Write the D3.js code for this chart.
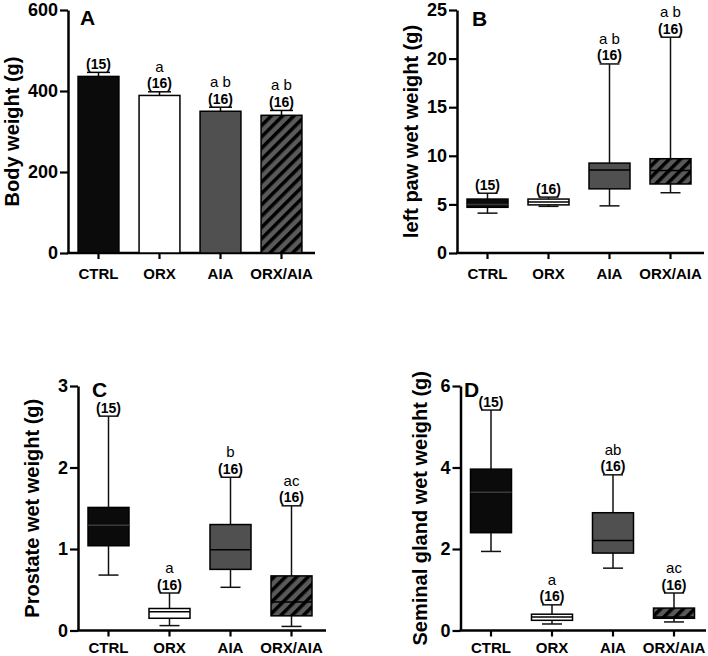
<!DOCTYPE html>
<html>
<head>
<meta charset="utf-8">
<script src="https://cdn.jsdelivr.net/npm/d3@7"></script>
<style>
  body { margin: 0; background: #fff; }
  svg { display: block; font-family: "Liberation Sans", Arial, sans-serif; }
</style>
</head>
<body>
<script>
// groups shown on every x axis, with the n of each group
const groups = ["CTRL", "ORX", "AIA", "ORX/AIA"];
const groupN = ["(15)", "(16)", "(16)", "(16)"];
const groupFill = ["#0b0b0b", "#ffffff", "#505050", "url(#hatch)"];

// A - body weight, mean and SEM
const bodyMean = [436, 389, 350, 340];
const bodySem = [10, 9, 10, 12];
const bodyLetters = ["", "a", "a b", "a b"];
const bodyTicks = [0, 200, 400, 600];

// B - left paw wet weight, box plot
const pawMin = [4.1, 4.8, 4.85, 6.2];
const pawQ1 = [4.7, 4.95, 6.6, 7.1];
const pawMed = [5.0, 5.25, 8.55, 8.5];
const pawQ3 = [5.55, 5.55, 9.25, 9.7];
const pawMax = [6.15, 5.75, 19.45, 22.2];
const pawLetters = ["", "", "a b", "a b"];
const pawTicks = [0, 5, 10, 15, 20, 25];

// C - prostate wet weight
const proMin = [0.68, 0.06, 0.53, 0.05];
const proQ1 = [1.04, 0.15, 0.75, 0.18];
const proMed = [1.29, 0.23, 0.99, 0.35];
const proQ3 = [1.51, 0.27, 1.30, 0.67];
const proMax = [2.63, 0.46, 1.88, 1.53];
const proLetters = ["", "a", "b", "ac"];
const proTicks = [0, 1, 2, 3];

// D - seminal gland wet weight
const semMin = [1.94, 0.16, 1.53, 0.21];
const semQ1 = [2.40, 0.25, 1.90, 0.30];
const semMed = [3.39, 0.33, 2.21, 0.33];
const semQ3 = [3.96, 0.40, 2.89, 0.55];
const semMax = [5.41, 0.63, 3.82, 0.92];
const semLetters = ["", "a", "ab", "ac"];
const semTicks = [0, 2, 4, 6];

const svg = d3.select("body")
  .append("svg")
  .attr("width", 708)
  .attr("height", 656);

// diagonal hatch for the ORX/AIA group
const pat = svg.append("defs").append("pattern")
  .attr("id", "hatch")
  .attr("patternUnits", "userSpaceOnUse")
  .attr("width", 8)
  .attr("height", 8)
  .attr("patternTransform", "rotate(45)");
pat.append("rect").attr("width", 8).attr("height", 8).attr("fill", "#5a5a5a");
pat.append("rect").attr("width", 3.5).attr("height", 8).attr("fill", "#000");

// draws axes, titles and labels of one panel, returns its scales
function makePanel(p) {
  const y = d3.scaleLinear().domain([0, p.yMax]).range([p.bottom, p.top]);
  const x = d3.scaleBand()
    .domain(groups)
    .range([p.left, p.left + 244])
    .paddingInner(0.33)
    .paddingOuter(0.165);

  const yAxis = svg.append("g")
    .attr("transform", `translate(${p.left},0)`)
    .call(d3.axisLeft(y).tickValues(p.ticks).tickFormat(d3.format("d"))
      .tickSize(8).tickPadding(2).tickSizeOuter(0));
  yAxis.select(".domain").attr("stroke-width", 2.5);
  yAxis.selectAll(".tick line").attr("stroke-width", 2.2);
  yAxis.selectAll("text")
    .attr("font-size", 18)
    .attr("font-weight", "bold")
    .attr("fill", "#000");

  const xAxis = svg.append("g")
    .attr("transform", `translate(0,${p.bottom})`)
    .call(d3.axisBottom(x).tickSize(6).tickPadding(p.pad));
  xAxis.select(".domain").remove();
  xAxis.selectAll(".tick line").attr("stroke-width", 2.2);
  xAxis.selectAll("text")
    .attr("font-size", 15)
    .attr("font-weight", "bold")
    .attr("fill", "#000");

  svg.append("line")
    .attr("x1", p.left - 1)
    .attr("x2", p.right)
    .attr("y1", p.bottom)
    .attr("y2", p.bottom)
    .attr("stroke", "#000")
    .attr("stroke-width", 2.5);

  svg.append("text")
    .text(p.title)
    .attr("x", p.titleX)
    .attr("y", p.titleY)
    .attr("font-size", 21)
    .attr("font-weight", "bold");

  svg.append("text")
    .text(p.label)
    .attr("transform", `translate(${p.labelX},${(p.top + p.bottom) / 2}) rotate(-90)`)
    .attr("text-anchor", "middle")
    .attr("dy", "0.35em")
    .attr("font-size", 20)
    .attr("font-weight", "bold");

  return {x, y};
}

// n and significance letters above each group
function annotate(x, capY, letters) {
  groups.forEach((g, i) => {
    const cx = x(g) + x.bandwidth() / 2;
    svg.append("text")
      .text(groupN[i])
      .attr("x", cx)
      .attr("y", capY[i] - 3.5)
      .attr("text-anchor", "middle")
      .attr("font-size", 14)
      .attr("font-weight", "bold");
    if (letters[i]) {
      svg.append("text")
        .text(letters[i])
        .attr("x", cx)
        .attr("y", capY[i] - 20)
        .attr("text-anchor", "middle")
        .attr("font-size", 15);
    }
  });
}

function boxPlot(s, mins, q1s, meds, q3s, maxs, letters) {
  const {x, y} = s;
  const boxW = 41, capW = 20;
  groups.forEach((g, i) => {
    const cx = x(g) + x.bandwidth() / 2;
    svg.append("line")
      .attr("x1", cx).attr("x2", cx)
      .attr("y1", y(mins[i])).attr("y2", y(maxs[i]))
      .attr("stroke", "#111").attr("stroke-width", 1.5);
    [mins[i], maxs[i]].forEach(v => {
      svg.append("line")
        .attr("x1", cx - capW / 2).attr("x2", cx + capW / 2)
        .attr("y1", y(v)).attr("y2", y(v))
        .attr("stroke", "#111").attr("stroke-width", 1.5);
    });
    svg.append("rect")
      .attr("x", cx - boxW / 2)
      .attr("y", y(q3s[i]))
      .attr("width", boxW)
      .attr("height", y(q1s[i]) - y(q3s[i]))
      .attr("fill", groupFill[i])
      .attr("stroke", "#000")
      .attr("stroke-width", 1.5);
    svg.append("line")
      .attr("x1", cx - boxW / 2).attr("x2", cx + boxW / 2)
      .attr("y1", y(meds[i])).attr("y2", y(meds[i]))
      .attr("stroke", i == 0 ? "#3a3a3a" : "#000")
      .attr("stroke-width", 1.5);
  });
  annotate(x, maxs.map(v => y(v)), letters);
}

// panel A - bars with SEM
const pA = makePanel({left: 68, right: 315, top: 10, bottom: 253, yMax: 600, ticks: bodyTicks, pad: 9,
  title: "A", titleX: 80, titleY: 25, label: "Body weight (g)", labelX: 12});
groups.forEach((g, i) => {
  const cx = pA.x(g) + pA.x.bandwidth() / 2;
  const top = pA.y(bodyMean[i] + bodySem[i]);
  svg.append("line")
    .attr("x1", cx).attr("x2", cx)
    .attr("y1", pA.y(bodyMean[i])).attr("y2", top)
    .attr("stroke", "#000").attr("stroke-width", 1.5);
  svg.append("line")
    .attr("x1", cx - 11.5).attr("x2", cx + 11.5)
    .attr("y1", top).attr("y2", top)
    .attr("stroke", "#000").attr("stroke-width", 1.5);
});
svg.selectAll("rect.bar")
  .data(bodyMean)
  .enter()
  .append("rect")
  .attr("class", "bar")
  .attr("x", (d, i) => pA.x(groups[i]))
  .attr("y", d => pA.y(d))
  .attr("width", pA.x.bandwidth())
  .attr("height", d => pA.y(0) - pA.y(d))
  .attr("fill", (d, i) => groupFill[i])
  .attr("stroke", "#000")
  .attr("stroke-width", 1.5);
annotate(pA.x, bodyMean.map((d, i) => pA.y(d + bodySem[i])), bodyLetters);

// panel B
const pB = makePanel({left: 457, right: 704, top: 10, bottom: 253, yMax: 25, ticks: pawTicks, pad: 9,
  title: "B", titleX: 472, titleY: 26, label: "left paw wet weight (g)", labelX: 411});
boxPlot(pB, pawMin, pawQ1, pawMed, pawQ3, pawMax, pawLetters);

// panel C
const pC = makePanel({left: 78, right: 326, top: 386, bottom: 630.5, yMax: 3, ticks: proTicks, pad: 6,
  title: "C", titleX: 92, titleY: 397, label: "Prostate wet weight (g)", labelX: 32});
boxPlot(pC, proMin, proQ1, proMed, proQ3, proMax, proLetters);

// panel D
const pD = makePanel({left: 460.5, right: 706, top: 386, bottom: 630.5, yMax: 6, ticks: semTicks, pad: 6,
  title: "D", titleX: 464, titleY: 397, label: "Seminal gland wet weight (g)", labelX: 420});
boxPlot(pD, semMin, semQ1, semMed, semQ3, semMax, semLetters);
</script>
</body>
</html>
